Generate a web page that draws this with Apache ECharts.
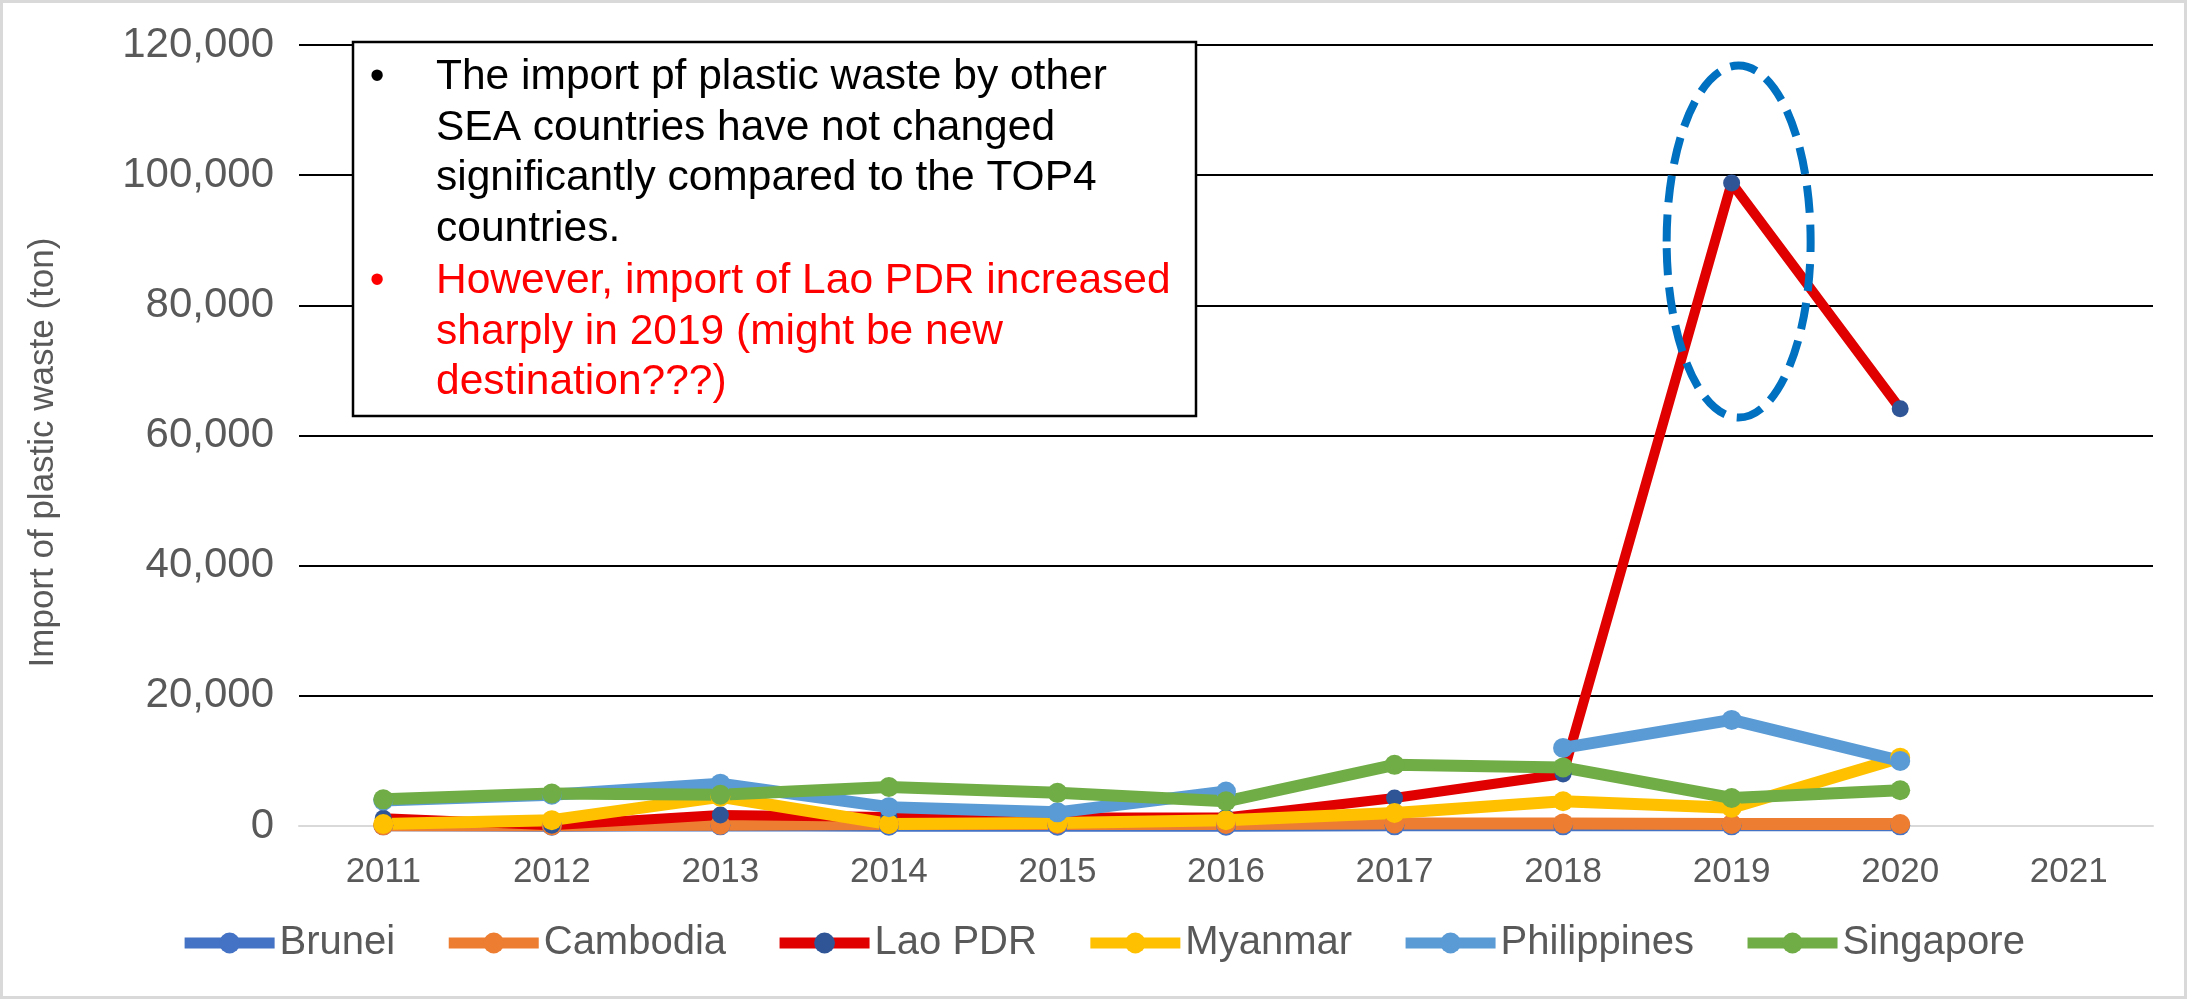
<!DOCTYPE html>
<html>
<head>
<meta charset="utf-8">
<title>Import of plastic waste</title>
<script src="https://cdn.jsdelivr.net/npm/echarts@6/dist/echarts.min.js"></script>
<style>
  html, body { margin: 0; padding: 0; background: #fff; }
  #chart { width: 2204px; height: 1000px; }
</style>
</head>
<body>
<div id="chart"></div>
<script>
const years = ['2011', '2012', '2013', '2014', '2015', '2016', '2017', '2018', '2019', '2020', '2021']

// import of plastic waste (ton), 2021 has no data
const brunei = [100, 50, 100, 50, 50, 50, 100, 100, 100, 100]
const cambodia = [100, 100, 200, 300, 300, 300, 400, 400, 300, 300]
const lao = [1200, 100, 1700, 1400, 1300, 1300, 4300, 8000, 98800, 64100]
const myanmar = [300, 900, 4500, 300, 450, 900, 2000, 3800, 2800, 10500]
const philippines = [3900, 4800, 6500, 2900, 2100, 5300, null, 12000, 16300, 10000]
const singapore = [4100, 5000, 4800, 6000, 5100, 3800, 9400, 9000, 4300, 5500]

const noteBlack = 'The import pf plastic waste by other\nSEA countries have not changed\nsignificantly compared to the TOP4\ncountries.'
const noteRed = 'However, import of Lao PDR increased\nsharply in 2019 (might be new\ndestination???)'

const font = 'Liberation Sans, Arial, sans-serif'
const grey = '#595959'

function lineSeries(name, data, color, markerColor, size, width) {
  return {
    name: name,
    type: 'line',
    data: data,
    symbol: 'circle',
    symbolSize: size || 20,
    lineStyle: { color: color, width: width || 12 },
    itemStyle: { color: markerColor || color },
    emphasis: { disabled: true }
  }
}

const chart = echarts.init(document.getElementById('chart'))
chart.setOption({
  animation: false,
  textStyle: { fontFamily: font },
  grid: { left: 299, right: 51, top: 45, bottom: 174, containLabel: false },
  legend: {
    top: 918,
    left: 'center',
    itemWidth: 90,
    itemHeight: 26,
    itemGap: 48,
    lineStyle: { width: 11 },
    textStyle: { color: grey, fontSize: 40, fontFamily: font },
    data: ['Brunei', 'Cambodia', 'Lao PDR', 'Myanmar', 'Philippines', 'Singapore']
  },
  xAxis: {
    type: 'category',
    data: years,
    axisLine: { lineStyle: { color: '#d9d9d9', width: 2 } },
    axisTick: { show: false },
    axisLabel: { color: grey, fontSize: 35, margin: 29 }
  },
  yAxis: {
    type: 'value',
    min: 0,
    max: 120000,
    interval: 20000,
    name: 'Import of plastic waste (ton)',
    nameLocation: 'middle',
    nameRotate: 90,
    nameGap: 238,
    nameTextStyle: { color: grey, fontSize: 35, padding: [0, 34, 0, 0] },
    axisLine: { show: false },
    axisTick: { show: false },
    axisLabel: {
      color: grey,
      fontSize: 42,
      margin: 25,
      formatter: v => v.toLocaleString('en-US')
    },
    splitLine: {
      lineStyle: {
        color: ['#d9d9d9', '#000000', '#000000', '#000000', '#000000', '#000000', '#000000'],
        width: 2
      }
    }
  },
  series: [
    lineSeries('Brunei', brunei, '#4472C4'),
    lineSeries('Cambodia', cambodia, '#ED7D31'),
    lineSeries('Lao PDR', lao, '#E00000', '#2F5597', 17, 10),
    lineSeries('Myanmar', myanmar, '#FFC000'),
    lineSeries('Philippines', philippines, '#5B9BD5'),
    lineSeries('Singapore', singapore, '#70AD47')
  ]
})

// dashed ellipse round the 2019 peak of Lao PDR
const c = chart.convertToPixel({ xAxisIndex: 0, yAxisIndex: 0 }, ['2019', 89800])

chart.setOption({
  graphic: [
    {
      type: 'rect',
      z: 0,
      silent: true,
      shape: { x: 1.5, y: 1.5, width: 2184, height: 996 },
      style: { fill: 'none', stroke: '#d9d9d9', lineWidth: 3 }
    },
    {
      type: 'rect',
      z: 100,
      shape: { x: 353, y: 42, width: 843, height: 374 },
      style: { fill: '#ffffff', stroke: '#000000', lineWidth: 2.5 }
    },
    {
      type: 'text', z: 101, x: 377, y: 77,
      style: { text: '•', fill: '#000', font: '42px ' + font, align: 'center', verticalAlign: 'middle' }
    },
    {
      type: 'text', z: 101, x: 436, y: 52,
      style: { text: noteBlack, fill: '#000', font: '42.5px ' + font, lineHeight: 50.7 }
    },
    {
      type: 'text', z: 101, x: 377, y: 281,
      style: { text: '•', fill: '#ff0000', font: '42px ' + font, align: 'center', verticalAlign: 'middle' }
    },
    {
      type: 'text', z: 101, x: 436, y: 256,
      style: { text: noteRed, fill: '#ff0000', font: '42.5px ' + font, lineHeight: 50.7 }
    },
    {
      type: 'ellipse',
      z: 100,
      silent: true,
      shape: { cx: c[0] + 7, cy: c[1], rx: 72, ry: 176 },
      style: { fill: 'none', stroke: '#0070C0', lineWidth: 8, lineDash: [27, 12] }
    }
  ]
})
</script>
</body>
</html>
